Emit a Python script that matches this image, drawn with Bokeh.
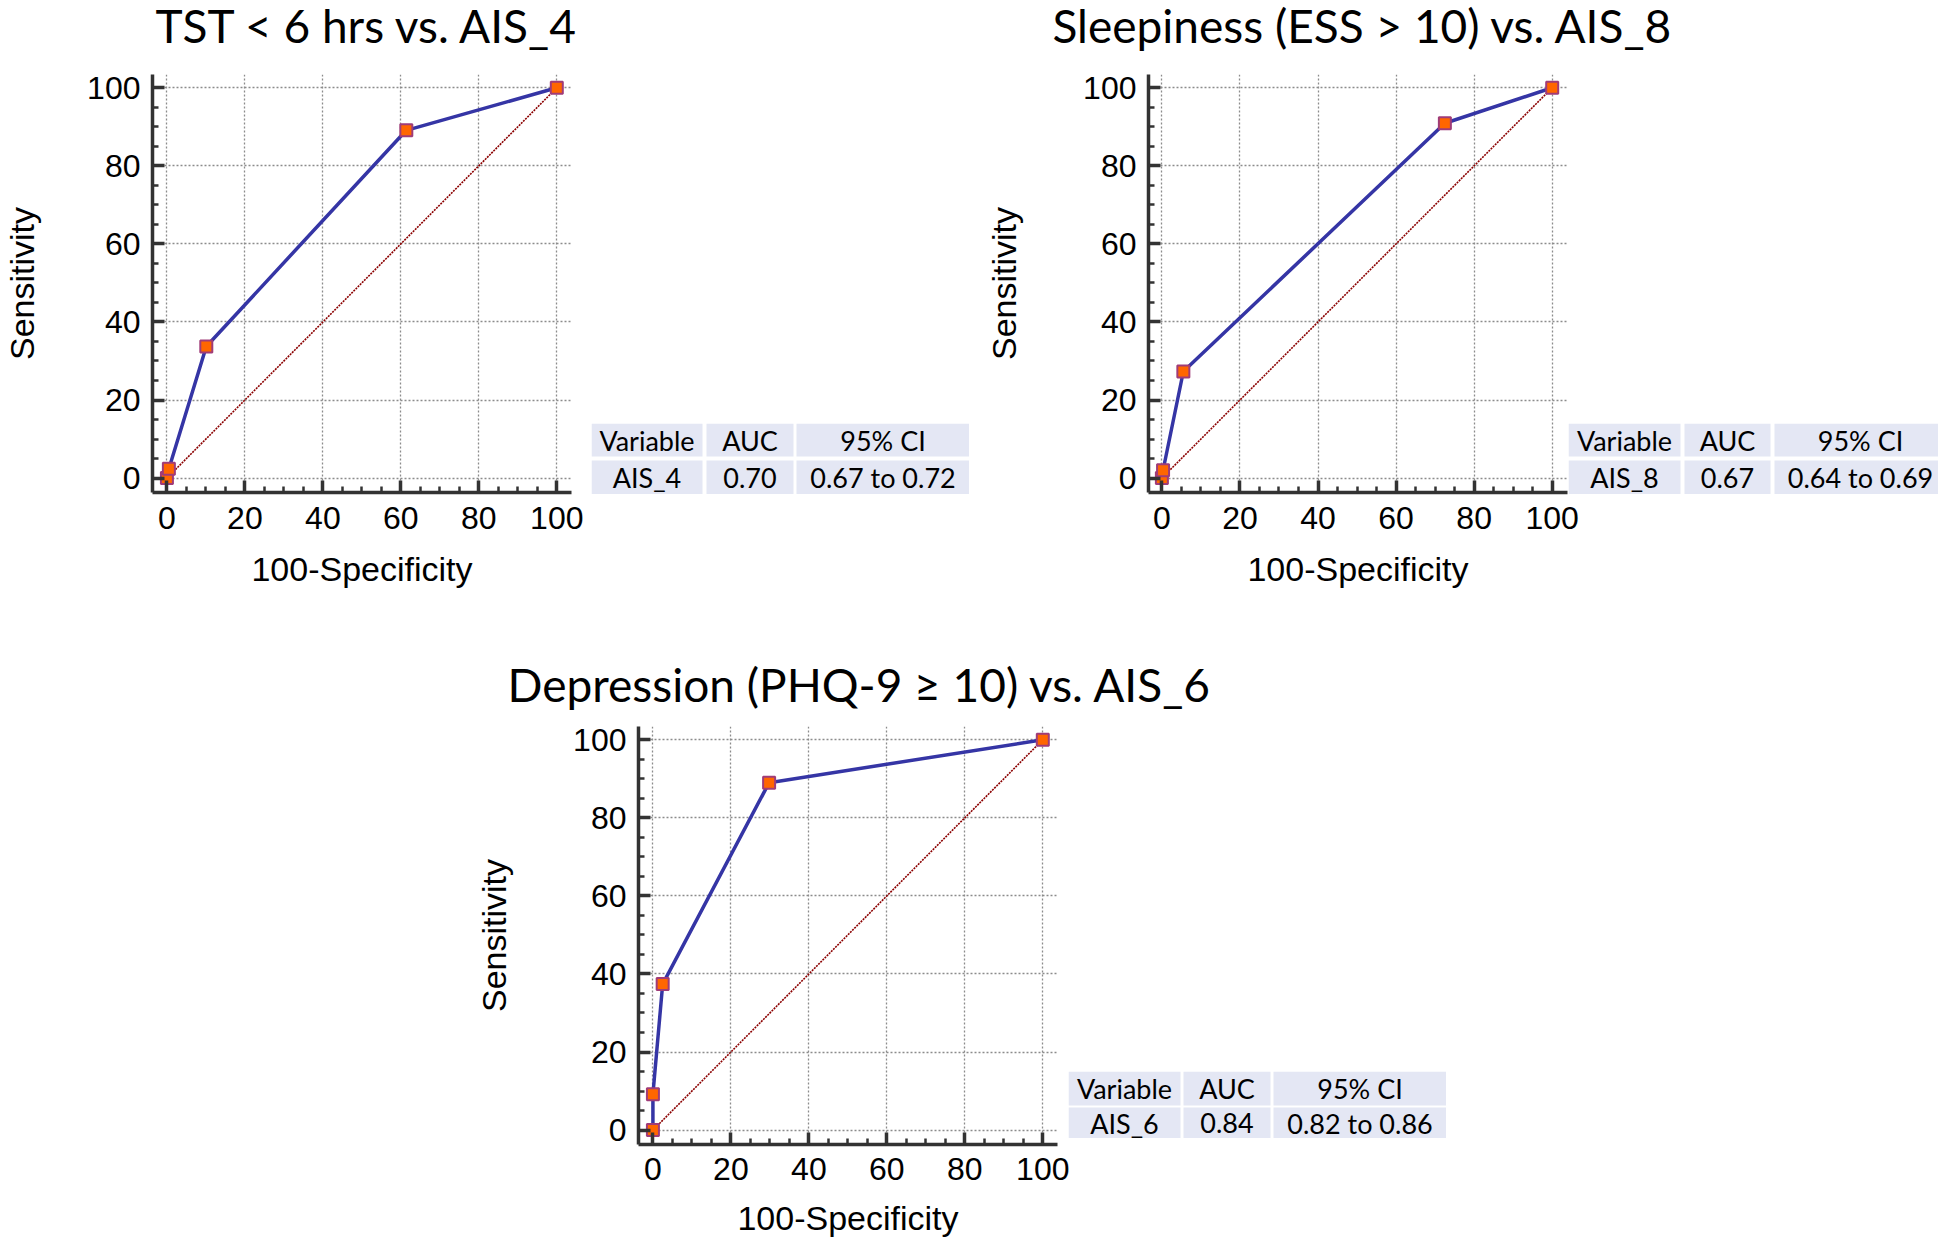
from bokeh.plotting import figure
from bokeh.layouts import row, column, Spacer
from bokeh.models import Range1d, SingleIntervalTicker
from bokeh.core.properties import value
from bokeh.embed import file_html
from bokeh.resources import INLINE

# ---------------- data ----------------
titles = ["TST < 6 hrs vs. AIS_4",
          "Sleepiness (ESS > 10) vs. AIS_8",
          "Depression (PHQ-9 \u2265 10) vs. AIS_6"]
fpr_tst = [0, 0.5, 10.1, 61.4, 100]
sens_tst = [0, 2.4, 33.7, 89.1, 100]
fpr_ess = [0, 0.3, 5.5, 72.5, 100]
sens_ess = [0, 2.0, 27.3, 90.9, 100]
fpr_phq = [0, 0, 2.5, 29.8, 100]
sens_phq = [0, 9.2, 37.4, 89.0, 100]
diag = [0, 100]
table_header = ["Variable", "AUC", "95% CI"]
variables = ["AIS_4", "AIS_8", "AIS_6"]
aucs = ["0.70", "0.67", "0.84"]
cis = ["0.67 to 0.72", "0.64 to 0.69", "0.82 to 0.86"]

TICK_FONT = "Liberation Sans"
TITLE_FONT = "Lato"


def make_panel(title, fpr, sens, g):
    p = figure(frame_width=419, frame_height=418,
               x_range=Range1d(*g["xr"]), y_range=Range1d(*g["yr"]),
               output_backend="svg", toolbar_location=None,
               min_border_left=g["bl"], min_border_right=g["br"],
               min_border_top=g["bt"], min_border_bottom=g["bb"])
    p.outline_line_color = None

    p.title.text = title
    p.title.text_font = TITLE_FONT
    p.title.text_font_size = "46px"
    p.title.text_font_style = "normal"
    p.title.text_color = "black"
    p.title.align = "left"
    p.title.offset = g["toff"]
    p.title.standoff = g["tstand"]

    p.xaxis.axis_label = "100-Specificity"
    p.yaxis.axis_label = "Sensitivity"
    for ax in (p.xaxis[0], p.yaxis[0]):
        ax.ticker = SingleIntervalTicker(interval=20, num_minor_ticks=4)
        ax.axis_line_width = 3.5
        ax.axis_line_color = "#333333"
        ax.major_tick_in = 12
        ax.major_tick_out = 0
        ax.major_tick_line_width = 3.5
        ax.major_tick_line_color = "#333333"
        ax.minor_tick_in = 6
        ax.minor_tick_out = 0
        ax.minor_tick_line_width = 2.5
        ax.minor_tick_line_color = "#333333"
        ax.major_label_text_font = TICK_FONT
        ax.major_label_text_font_size = "32px"
        ax.major_label_text_color = "black"
        ax.axis_label_text_font = TICK_FONT
        ax.axis_label_text_font_size = "34px"
        ax.axis_label_text_font_style = "normal"
        ax.axis_label_text_color = "black"
    p.xaxis.major_label_standoff = g["xms"]
    p.yaxis.major_label_standoff = 12
    p.xaxis.axis_label_standoff = g["xls"]
    p.yaxis.axis_label_standoff = g["yls"]

    for gr in (p.xgrid[0], p.ygrid[0]):
        gr.ticker = SingleIntervalTicker(interval=20)
        gr.grid_line_color = "#8c8c8c"
        gr.grid_line_dash = "2 2"
        gr.grid_line_width = 1.3

    p.line(diag, diag, line_color="#8B0000", line_width=1.6, line_dash="2 1")
    p.line(fpr, sens, line_color="#3535A5", line_width=3.5)
    p.scatter(fpr, sens, marker="square", size=12, fill_color="#FF6600",
              line_color="#A03C78", line_width=2)
    return p


def make_table(var, auc, ci, t):
    w, h = t["w"], t["h"]
    p = figure(width=w, height=h, x_range=Range1d(0, w), y_range=Range1d(h, 0),
               output_backend="svg", toolbar_location=None, title=None,
               x_axis_location=None, y_axis_location=None, min_border=0)
    p.grid.visible = False
    p.outline_line_color = None
    p.background_fill_color = None
    p.border_fill_color = None
    texts = [table_header, [var, auc, ci]]
    lefts, rights, tops, bottoms, cx, cy, labels = [], [], [], [], [], [], []
    for r, (yt, yb) in enumerate(t["rows"]):
        for c, (xl, xr) in enumerate(t["cols"]):
            lefts.append(xl); rights.append(xr); tops.append(yt); bottoms.append(yb)
            cx.append((xl + xr) / 2); cy.append((yt + yb) / 2)
            labels.append(texts[r][c])
    p.quad(left=lefts, right=rights, top=tops, bottom=bottoms,
           fill_color="#E4E7F4", line_color=None)
    p.text(x=cx, y=cy, text=labels, text_align="center", text_baseline="middle",
           text_font=value(TITLE_FONT), text_font_size=value("27px"),
           text_color="black")
    holder = column(Spacer(width=w, height=t["top"]), p,
                    margin=(0, t["mr"], 0, t["ml"]))
    return holder


gA = dict(xr=(-3.7, 103.77), yr=(-3.7, 103.4), bl=141, br=407, bt=93, bb=137,
          toff=3, tstand=43, xms=14, xls=18, yls=43)
gB = dict(xr=(-3.43, 103.92), yr=(-3.7, 103.4), bl=170, br=371, bt=93, bb=137,
          toff=-96, tstand=43, xms=14, xls=18, yls=57)
gC = dict(xr=(-3.7, 103.77), yr=(-3.7, 103.4), bl=164, br=407, bt=97, bb=87,
          toff=-131, tstand=30, xms=13, xls=16, yls=57)

tA = dict(w=378, h=71, top=449, cols=[(0, 111), (115, 202), (205, 378)],
          rows=[(0, 33), (37, 71)], mr=9, ml=-387)
tB = dict(w=370, h=71, top=449, cols=[(0, 112), (116, 202), (206, 378)],
          rows=[(0, 33), (37, 71)], mr=0, ml=-370)
tC = dict(w=378, h=67, top=442, cols=[(0, 112), (115, 202), (205, 378)],
          rows=[(0, 34), (36, 67)], mr=18, ml=-396)

pA = make_panel(titles[0], fpr_tst, sens_tst, gA)
pB = make_panel(titles[1], fpr_ess, sens_ess, gB)
pC = make_panel(titles[2], fpr_phq, sens_phq, gC)
tabA = make_table(variables[0], aucs[0], cis[0], tA)
tabB = make_table(variables[1], aucs[1], cis[1], tB)
tabC = make_table(variables[2], aucs[2], cis[2], tC)

layout = column(row(pA, tabA, pB, tabB),
                row(Spacer(width=472, height=10), pC, tabC),
                margin=(-26, 0, 0, 0))

open("out.html", "w").write(file_html(layout, INLINE))
